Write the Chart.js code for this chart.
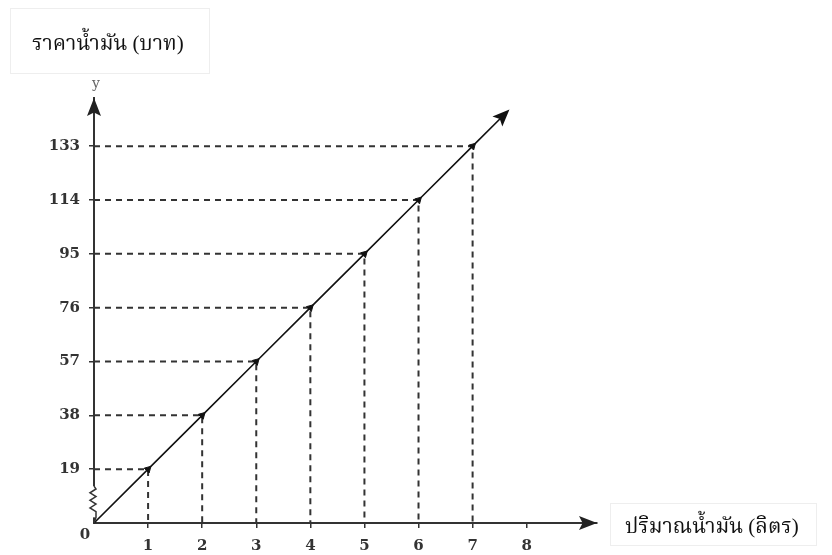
<!DOCTYPE html>
<html>
<head>
<meta charset="utf-8">
<script src="https://cdn.jsdelivr.net/npm/chart.js@4.4.0/dist/chart.umd.min.js"></script>
<style>
  html, body { margin: 0; padding: 0; background: #fff; }
  #wrap { width: 832px; height: 555px; position: relative; }
</style>
</head>
<body>
<div id="wrap"><canvas id="oilChart"></canvas></div>
<script>
const litres = [1, 2, 3, 4, 5, 6, 7];
const prices = [19, 38, 57, 76, 95, 114, 133];
const xTicks = [1, 2, 3, 4, 5, 6, 7, 8];
const yTicks = [19, 38, 57, 76, 95, 114, 133];
const yTitle = "ราคาน้ำมัน (บาท)";
const xTitle = "ปริมาณน้ำมัน (ลิตร)";

const tickFont = { family: "'DejaVu Serif', serif", size: 15, weight: "bold" };

// line from the origin through every point
const lineData = [{ x: 0, y: 0 }].concat(litres.map((x, i) => ({ x: x, y: prices[i] })));

// dashed guides: y axis -> point -> x axis
const guideSets = litres.map((x, i) => ({
    type: "line",
    data: [{ x: 0, y: prices[i] }, { x: x, y: prices[i] }, { x: x, y: 0 }],
    borderColor: "#333",
    borderWidth: 2,
    borderDash: [6, 5],
    pointRadius: 0,
    fill: false,
    clip: false,
    order: 3,
}));

function arrowHead(ctx, tipX, tipY, angle, len, half) {
    ctx.save();
    ctx.translate(tipX, tipY);
    ctx.rotate(angle);
    ctx.beginPath();
    ctx.moveTo(0, 0);
    ctx.lineTo(-len, -half);
    ctx.lineTo(-len * 0.8, 0);
    ctx.lineTo(-len, half);
    ctx.closePath();
    ctx.fill();
    ctx.restore();
}

const decor = {
    id: "decor",
    afterDraw(chart) {
        const ctx = chart.ctx;
        const area = chart.chartArea;
        const xs = chart.scales.x, ys = chart.scales.y;
        const ox = xs.getPixelForValue(0), oy = ys.getPixelForValue(0);
        ctx.save();
        ctx.fillStyle = "#222";
        ctx.strokeStyle = "#222";

        // axis arrows
        arrowHead(ctx, area.right, oy, 0, 18, 7);
        arrowHead(ctx, ox, area.top, -Math.PI / 2, 18, 7);

        // axis break squiggle near the origin
        ctx.fillStyle = "#fff";
        ctx.fillRect(ox - 3, ys.getPixelForValue(13), 6, ys.getPixelForValue(2) - ys.getPixelForValue(13));
        ctx.strokeStyle = "#333";
        ctx.lineWidth = 1.5;
        ctx.beginPath();
        ctx.moveTo(ox, ys.getPixelForValue(13));
        const steps = 6;
        for (let k = 0; k <= steps; k++) {
            const v = 12 - k * (8 / steps);
            ctx.lineTo(ox + (k % 2 ? -4 : 2), ys.getPixelForValue(v));
        }
        ctx.lineTo(ox + 2, ys.getPixelForValue(2));
        ctx.lineTo(ox, oy);
        ctx.stroke();

        // extension of the line with its arrow
        const n = lineData.length;
        const p1x = xs.getPixelForValue(lineData[n - 2].x), p1y = ys.getPixelForValue(lineData[n - 2].y);
        const p2x = xs.getPixelForValue(lineData[n - 1].x), p2y = ys.getPixelForValue(lineData[n - 1].y);
        const ang = Math.atan2(p2y - p1y, p2x - p1x);
        const ext = 52;
        const tx = p2x + Math.cos(ang) * ext, ty = p2y + Math.sin(ang) * ext;
        ctx.strokeStyle = "#111";
        ctx.lineWidth = 1.6;
        ctx.beginPath();
        ctx.moveTo(p2x, p2y);
        ctx.lineTo(tx - Math.cos(ang) * 10, ty - Math.sin(ang) * 10);
        ctx.stroke();
        ctx.fillStyle = "#111";
        arrowHead(ctx, tx, ty, ang, 17, 7);

        // origin label and axis letter
        ctx.fillStyle = "#333";
        ctx.font = "bold 15px 'DejaVu Serif', serif";
        ctx.textAlign = "center";
        ctx.textBaseline = "middle";
        ctx.fillText("0", ox - 9, oy + 12);
        ctx.fillStyle = "#666";
        ctx.font = "14px 'DejaVu Serif', serif";
        ctx.fillText("y", ox + 2, area.top - 14);

        // title boxes
        ctx.strokeStyle = "#eeeeee";
        ctx.lineWidth = 1;
        ctx.strokeRect(10.5, 8.5, 199, 65);
        ctx.strokeRect(610.5, 503.5, 206, 42);
        ctx.fillStyle = "#111";
        ctx.font = "21px 'Liberation Serif', 'Noto Serif Thai', serif";
        ctx.textAlign = "left";
        ctx.textBaseline = "alphabetic";
        ctx.fillText(yTitle, 32, 50);
        ctx.fillText(xTitle, 625, 533);
        ctx.restore();
    },
};

new Chart(document.getElementById("oilChart"), {
    type: "scatter",
    data: {
        datasets: [
            {
                type: "line",
                data: lineData,
                borderColor: "#111",
                borderWidth: 1.6,
                pointRadius: 0,
                fill: false,
                clip: false,
                order: 2,
            },
            {
                type: "scatter",
                data: litres.map((x, i) => ({ x: x, y: prices[i] })),
                pointStyle: "triangle",
                rotation: 45,
                pointRadius: 4,
                backgroundColor: "#111",
                borderColor: "#111",
                borderWidth: 1,
                clip: false,
                order: 1,
            },
        ].concat(guideSets),
    },
    options: {
        responsive: true,
        maintainAspectRatio: false,
        animation: false,
        events: [],
        layout: { padding: { top: 98, right: 235, bottom: 0, left: 0 } },
        plugins: { legend: { display: false }, tooltip: { enabled: false } },
        scales: {
            x: {
                type: "linear",
                min: 0,
                max: 9.3,
                afterBuildTicks: (s) => { s.ticks = xTicks.map((v) => ({ value: v })); },
                afterFit: (s) => { s.height = 32; },
                grid: { drawOnChartArea: false, drawTicks: true, tickLength: 5, color: "#333", lineWidth: 1.5 },
                border: { display: true, color: "#333", width: 2 },
                ticks: { color: "#333", font: tickFont, padding: 9, maxRotation: 0, autoSkip: false },
            },
            y: {
                type: "linear",
                min: 0,
                max: 150,
                afterBuildTicks: (s) => { s.ticks = yTicks.map((v) => ({ value: v })); },
                afterFit: (s) => { s.width = 94; },
                grid: { drawOnChartArea: false, drawTicks: true, tickLength: 5, color: "#333", lineWidth: 1.5 },
                border: { display: true, color: "#333", width: 2 },
                ticks: { color: "#333", font: tickFont, padding: 9, autoSkip: false },
            },
        },
    },
    plugins: [decor],
});
</script>
</body>
</html>
